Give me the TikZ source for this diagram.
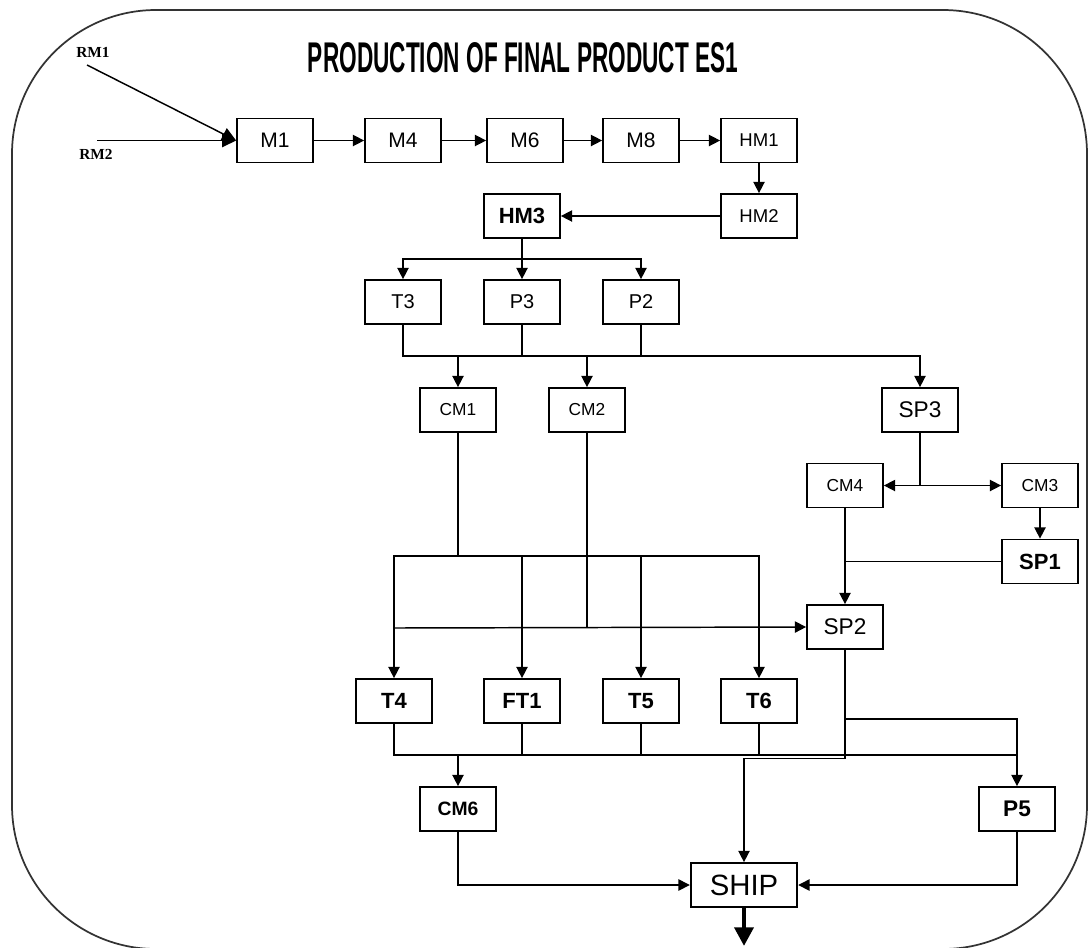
\documentclass[tikz,border=0pt]{standalone}
\usepackage{fontspec}
\usepackage{graphicx}
\setmainfont{Liberation Sans}
\newfontfamily\rmlabelfont{Liberation Serif}
\usetikzlibrary{arrows.meta}
\begin{document}
\begin{tikzpicture}[x=0.75pt,y=-0.75pt,
  box/.style={draw=black, line width=1.3pt, minimum width=57pt, minimum height=33pt, inner sep=0pt},
  con/.style={line width=1.1pt, draw=black},
  arr/.style={con, -{Triangle[length=8.5pt,width=8.5pt]}},
  bigarr/.style={con, -{Triangle[length=10.5pt,width=10pt]}},
  outarr/.style={line width=3.4pt, draw=black, -{Triangle[length=14pt,width=14pt]}},
  fm/.style={font=\fontsize{15.75}{18}\selectfont},
  fhm/.style={font=\fontsize{13.9}{16}\selectfont},
  ft/.style={font=\fontsize{15}{18}\selectfont},
  fcm/.style={font=\fontsize{13}{15}\selectfont},
  fsp/.style={font=\fontsize{17}{20}\selectfont},
  fb/.style={font=\bfseries\fontsize{16.5}{19}\selectfont},
  fcmb/.style={font=\bfseries\fontsize{14.5}{17}\selectfont},
  fship/.style={font=\fontsize{22}{26}\selectfont},
  rmlab/.style={font=\rmlabelfont\bfseries\fontsize{11.5}{14}\selectfont, inner sep=0pt},
  border/.style={line width=1.3pt, draw=black!80}
]
\useasboundingbox (0,0) rectangle (1089,947);
\draw[border, rounded corners=108pt] (12,10) rectangle (1087,949);

% title
\node[inner sep=0pt] (title) at (523,58) {\resizebox{322.5pt}{22.5pt}{\bfseries PRODUCTION OF FINAL PRODUCT ES1}};

% raw materials
\node[rmlab] (rm1) at (93,52) {RM1};
\node[rmlab] (rm2) at (96,154) {RM2};
\coordinate (rm1s) at (87,65);
\coordinate (rm2s) at (97,140.5);

% row 1
\node[box, fm] (m1) at (275,140.5) {M1};
\node[box, fm] (m4) at (403,140.5) {M4};
\node[box, fm] (m6) at (525,140.5) {M6};
\node[box, fm] (m8) at (641,140.5) {M8};
\node[box, fhm] (hm1) at (759,140.5) {HM1};
\node[box, fhm] (hm2) at (759,216) {HM2};
\node[box, fb] (hm3) at (522,216) {HM3};

\node[box, ft] (t3) at (403,302) {T3};
\node[box, ft] (p3) at (522,302) {P3};
\node[box, ft] (p2) at (641,302) {P2};

\node[box, fcm] (cm1) at (458,410) {CM1};
\node[box, fcm] (cm2) at (587,410) {CM2};
\node[box, fsp] (sp3) at (920,410) {SP3};

\node[box, fcm] (cm4) at (845,485.5) {CM4};
\node[box, fcm] (cm3) at (1040,485.5) {CM3};
\node[box, fb] (sp1) at (1040,561.5) {SP1};
\node[box, fsp] (sp2) at (845,627) {SP2};

\node[box, fb] (t4) at (394,701) {T4};
\node[box, fb] (ft1) at (522,701) {FT1};
\node[box, fb] (t5) at (641,701) {T5};
\node[box, fb] (t6) at (759,701) {T6};

\node[box, fcmb] (cm6) at (458,809) {CM6};
\node[box, fb, font=\bfseries\fontsize{17}{20}\selectfont] (p5) at (1017,809) {P5};
\node[box, fship, minimum width=80pt] (ship) at (744,885) {SHIP};

% helper coordinates (levels)
\coordinate (l1) at (0,259);
\coordinate (l2) at (0,356);
\coordinate (l3) at (0,556);
\coordinate (l4) at (0,628);
\coordinate (l5) at (0,485.5);
\coordinate (l6) at (0,719);
\coordinate (l7) at (0,755);
\coordinate (l8) at (0,758.5);
\coordinate (out) at (744,946);

% connectors row 1
\draw[bigarr] (rm1s) -- (m1.west);
\draw[bigarr] (rm2s) -- (m1.west);
\draw[arr] (m1) -- (m4);
\draw[arr] (m4) -- (m6);
\draw[arr] (m6) -- (m8);
\draw[arr] (m8) -- (hm1);
\draw[arr] (hm1) -- (hm2);
\draw[arr] (hm2) -- (hm3);

% HM3 split
\draw[arr] (hm3.south) -- (hm3.south|-l1) -| (t3.north);
\draw[arr] (hm3.south|-l1) -| (p2.north);
\draw[arr] (hm3.south|-l1) -- (p3.north);

% collector to CM1, CM2, SP3
\draw[arr] (t3.south) |- (sp3.north|-l2) -- (sp3.north);
\draw[con] (p3.south) -- (p3.south|-l2);
\draw[con] (p2.south) -- (p2.south|-l2);
\draw[arr] (cm1.north|-l2) -- (cm1.north);
\draw[arr] (cm2.north|-l2) -- (cm2.north);

% CM1 split
\draw[arr] (cm1.south) -- (cm1.south|-l3) -| (t4.north);
\draw[arr] (cm1.south|-l3) -| (t6.north);
\draw[arr] (ft1.north|-l3) -- (ft1.north);
\draw[arr] (t5.north|-l3) -- (t5.north);

% CM2 to SP2
\draw[con] (cm2.south) -- (cm2.south|-l4);
\draw[arr] (t4.north|-l4) -- (sp2.west);

% SP3 split
\draw[arr] (sp3.south) -- (sp3.south|-l5) -- (cm4.east);
\draw[arr] (sp3.south|-l5) -- (cm3.west);
\draw[arr] (cm3) -- (sp1);
\draw[arr] (cm4) -- (sp2);
\draw[con] (sp1.west) -- (cm4.south|-sp1.west);

% T row collector
\draw[arr] (t4.south) |- (p5.north|-l7) -- (p5.north);
\draw[con] (ft1.south) -- (ft1.south|-l7);
\draw[con] (t5.south) -- (t5.south|-l7);
\draw[con] (t6.south) -- (t6.south|-l7);
\draw[arr] (cm6.north|-l7) -- (cm6.north);

% SP2 outputs
\draw[con] (sp2.south) -- (sp2.south|-l6) -| (p5.north|-l7);
\draw[arr] (sp2.south) |- (ship.north|-l8) -- (ship.north);

% to SHIP
\draw[arr] (cm6.south) |- (ship.west);
\draw[arr] (p5.south) |- (ship.east);
\draw[outarr] (ship.south) -- (out);
\end{tikzpicture}
\end{document}
